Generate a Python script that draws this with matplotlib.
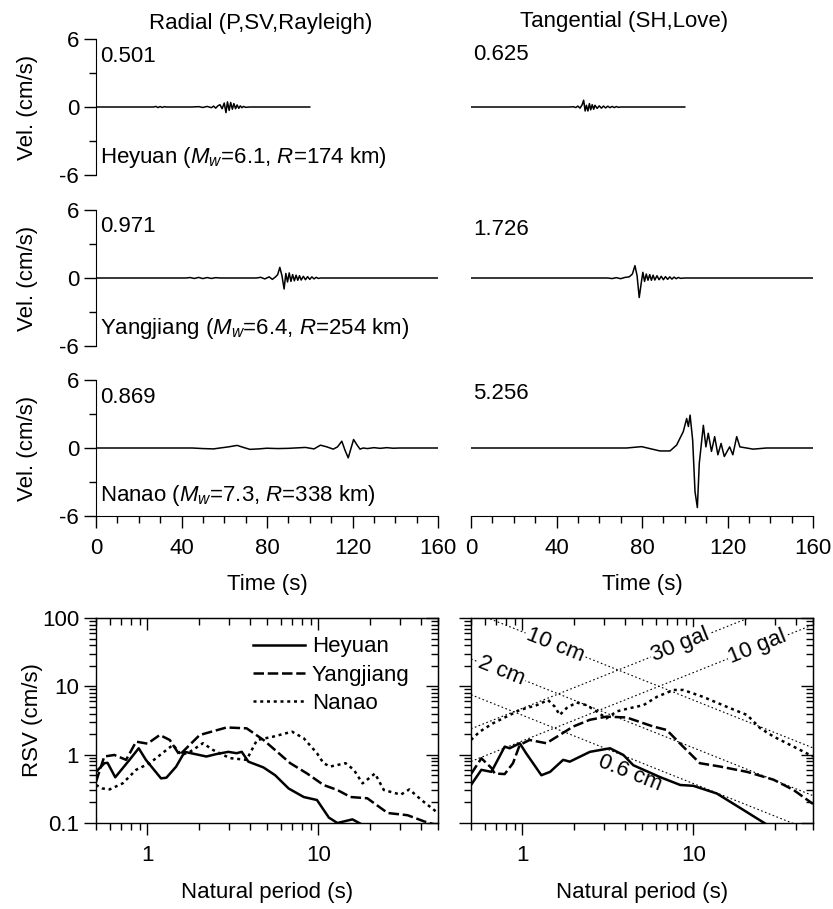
import numpy as np
import matplotlib
matplotlib.use('Agg')
import matplotlib.pyplot as plt
from matplotlib.ticker import FixedLocator, FixedFormatter, LogLocator, NullFormatter, MultipleLocator

plt.rcParams['font.family'] = ['Liberation Sans', 'DejaVu Sans']
plt.rcParams['font.size'] = 16
plt.rcParams['mathtext.fontset'] = 'custom'
plt.rcParams['mathtext.rm'] = 'Liberation Sans'
plt.rcParams['mathtext.it'] = 'Liberation Sans:italic'
plt.rcParams['axes.unicode_minus'] = False

# ---- velocity waveforms (time s, velocity cm/s) ----
heyuan_r_t = [0, 27, 28, 29, 30, 31, 32, 33, 45, 48, 50, 52, 54, 55, 56, 57, 58, 59, 60, 60.8, 61.5,
              62.3, 63, 63.8, 64.5, 65.3, 66, 66.8, 67.5, 68.3, 69, 70, 72, 100]
heyuan_r_v = [0, 0, 0.05, -0.05, 0.04, -0.04, 0.03, 0, 0, 0.03, -0.04, 0.05, -0.06, 0.08, -0.1, 0.1,
              0.2, -0.15, 0.35, -0.5, 0.45, -0.3, 0.4, -0.2, 0.3, -0.15, 0.18, -0.12, 0.1, -0.06, 0.05,
              -0.03, 0, 0]
heyuan_t_t = [0, 46, 48, 49, 50, 51, 52, 52.7, 53.4, 54, 54.7, 55.4, 56, 56.7, 57.4, 58, 59, 60, 61,
              62, 63, 64, 65, 66, 67, 68, 69, 70, 100]
heyuan_t_v = [0, 0, 0.02, -0.05, 0.08, -0.1, 0.2, 0.6, -0.35, 0.15, -0.35, 0.3, -0.25, 0.2, -0.2, 0.15,
              -0.12, 0.1, -0.1, 0.08, -0.08, 0.07, -0.06, 0.05, -0.05, 0.04, -0.03, 0, 0]
yangjiang_r_t = [0, 42, 44, 46, 48, 50, 52, 54, 56, 58, 75, 77, 79, 81, 82.5, 84, 85, 86, 87, 88, 88.8,
                 89.6, 90.4, 91.2, 92, 92.8, 93.6, 94.4, 95.2, 96, 97, 98, 99, 100, 101, 102, 103,
                 104, 105, 160]
yangjiang_r_v = [0, 0, 0.04, -0.04, 0.05, -0.05, 0.04, -0.04, 0.03, 0, 0, 0.06, -0.08, 0.1, -0.12, 0.1,
                 0.3, 0.94, 0.2, -0.97, 0.4, -0.35, 0.45, -0.3, 0.3, -0.25, 0.25, -0.2, 0.2, -0.18,
                 0.15, -0.15, 0.12, -0.12, 0.1, -0.08, 0.06, -0.04, 0, 0]
yangjiang_t_t = [0, 64, 66, 68, 70, 72, 74, 75.5, 76.7, 77.7, 78.7, 79.6, 80.4, 81.2, 82, 82.8, 83.6,
                 84.4, 85.2, 86, 87, 88, 89, 90, 91, 92, 93, 94, 95, 96, 97, 98, 100, 160]
yangjiang_t_v = [0, 0, -0.05, 0.03, -0.06, 0.05, 0.1, 0.35, 1.09, 0.2, -1.726, -0.5, 0.5, -0.3, 0.35,
                 -0.2, 0.3, -0.2, 0.25, -0.18, 0.2, -0.15, 0.15, -0.15, 0.12, -0.12, 0.1, -0.1, 0.08,
                 -0.06, 0.05, -0.03, 0, 0]
nanao_r_t = [0, 45, 50, 55, 58, 62, 66, 69, 72, 76, 80, 85, 90, 95, 98, 102, 105, 108, 111, 113, 115,
             116.5, 118, 119.5, 120.5, 122, 123.5, 125, 127, 130, 133, 136, 139, 142, 160]
nanao_r_v = [0, 0, -0.05, -0.08, 0.0, 0.1, 0.23, 0.05, -0.12, -0.08, -0.02, -0.05, -0.03, 0.02, 0.05,
             -0.08, 0.25, 0.1, -0.1, 0.1, 0.6, -0.2, -0.87, 0.1, 0.75, 0.3, -0.1, 0.0, -0.05, 0.03,
             -0.03, 0.03, -0.02, 0, 0]
nanao_t_t = [0, 72.8, 79.8, 88.4, 93.1, 96.2, 99.3, 100.9, 101.7, 102.5, 103.7, 104.8, 105.9, 106.8,
             108.7, 109.9, 111, 112.5, 114, 115.5, 117, 118.5, 121, 122.5, 124.3, 125.8, 132, 138.2, 160]
nanao_t_v = [0, 0, 0.12, -0.26, -0.26, 0.26, 1.44, 2.6, 1.9, 2.9, 0.7, -3.85, -5.256, -1.35, 2.0, 0.1,
             1.3, -0.3, 1.0, -0.6, 0.4, -0.75, 0.1, -0.6, 1.0, 0.1, -0.1, 0, 0]

peaks_r = ['0.501', '0.971', '0.869']
peaks_t = ['0.625', '1.726', '5.256']
stations = ['Heyuan ($M_w$=6.1, $R$=174 km)',
            'Yangjiang ($M_w$=6.4, $R$=254 km)',
            'Nanao ($M_w$=7.3, $R$=338 km)']

# ---- relative velocity response spectra (period s, RSV cm/s) ----
heyuan_rad_T = [0.5, 0.56, 0.584, 0.648, 0.784, 0.889, 0.98, 1.2, 1.29, 1.47, 1.65, 2.21, 2.53, 2.97,
                3.32, 3.56, 3.89, 4.77, 5.58, 6.69, 8.2, 9.8, 11.5, 12.9, 14, 15.8, 17.7, 20]
heyuan_rad_V = [0.56, 0.75, 0.76, 0.467, 0.836, 1.24, 0.836, 0.45, 0.46, 0.667, 1.1, 0.94, 1.02, 1.1,
                1.05, 1.1, 0.79, 0.65, 0.5, 0.32, 0.24, 0.217, 0.12, 0.1, 0.105, 0.113, 0.097, 0.08]
yangjiang_rad_T = [0.5, 0.559, 0.64, 0.75, 0.858, 1.0, 1.18, 1.35, 1.54, 2.02, 2.9, 3.8, 4.77, 6.84,
                   8.58, 10.7, 12.9, 15.4, 19.3, 25.4, 33.2, 41.7, 50]
yangjiang_rad_V = [0.40, 0.94, 0.99, 0.84, 1.55, 1.45, 1.94, 1.64, 0.99, 1.94, 2.5, 2.43, 1.64, 0.75,
                   0.53, 0.36, 0.304, 0.24, 0.23, 0.14, 0.13, 0.105, 0.092]
nanao_rad_T = [0.5, 0.546, 0.6, 0.716, 0.858, 1.03, 1.29, 1.41, 1.58, 1.77, 2.11, 2.42, 3.03, 3.8,
               4.37, 5.46, 7.0, 8.2, 9.8, 10.7, 11.7, 14.4, 16.1, 18.1, 21.4, 24.1, 30.3, 34, 40, 50]
nanao_rad_V = [0.36, 0.32, 0.31, 0.38, 0.6, 0.75, 1.17, 1.39, 0.99, 1.1, 1.47, 1.17, 0.89, 0.84, 1.64,
               1.84, 2.17, 1.74, 1.05, 0.75, 0.67, 0.75, 0.6, 0.38, 0.53, 0.304, 0.26, 0.31, 0.217, 0.14]

heyuan_tan_T = [0.5, 0.575, 0.658, 0.787, 0.842, 0.964, 1.05, 1.29, 1.45, 1.73, 1.89, 2.48, 3.25, 3.89,
                4.45, 6.37, 8.37, 9.99, 13.7, 19.6, 27, 30]
heyuan_tan_V = [0.36, 0.6, 0.56, 1.31, 1.24, 1.47, 1.05, 0.5, 0.56, 0.84, 0.79, 1.1, 1.24, 0.99, 0.70,
                0.47, 0.36, 0.35, 0.27, 0.155, 0.094, 0.08]
yangjiang_tan_T = [0.5, 0.575, 0.658, 0.688, 0.787, 0.88, 0.964, 1.10, 1.38, 1.65, 1.98, 2.48, 3.1,
                   4.07, 5.82, 6.97, 8.7, 10.9, 14.3, 20.6, 29.4, 38.5, 50]
yangjiang_tan_V = [0.52, 0.885, 0.64, 0.53, 0.52, 0.75, 1.39, 1.64, 1.47, 1.94, 2.58, 3.24, 3.6, 3.5,
                   2.58, 2.3, 1.31, 0.75, 0.67, 0.56, 0.43, 0.304, 0.19]
nanao_tan_T = [0.5, 0.562, 0.673, 0.806, 0.964, 1.21, 1.41, 1.55, 1.65, 1.81, 2.07, 2.37, 2.71, 3.1,
               3.56, 4.25, 5.1, 6.1, 7.63, 8.7, 11.4, 15.7, 20.6, 24.6, 29.4, 38.5, 50]
nanao_tan_V = [1.64, 2.17, 2.88, 3.6, 4.5, 5.3, 6.3, 5.0, 3.8, 4.8, 5.8, 5.3, 4.3, 3.4, 4.3, 4.8, 5.3,
               7.0, 8.85, 8.85, 7.0, 5.0, 3.8, 2.43, 1.84, 1.31, 0.94]

# reference lines: constant displacement (cm) and constant acceleration (gal)
disp_cm = [10, 2, 0.6]
accel_gal = [30, 10]
ref_T = np.array([0.5, 50])

W, H = 833, 909
fig = plt.figure(figsize=(W / 100, H / 100), dpi=100)


def px_axes(x0, y0, x1, y1):
    return fig.add_axes([x0 / W, 1 - y1 / H, (x1 - x0) / W, (y1 - y0) / H])


def style_ticks(ax):
    ax.tick_params(which='major', length=8.6, width=1.0)
    ax.tick_params(which='minor', length=5, width=1.0)


waves = [[(heyuan_r_t, heyuan_r_v), (heyuan_t_t, heyuan_t_v)],
         [(yangjiang_r_t, yangjiang_r_v), (yangjiang_t_t, yangjiang_t_v)],
         [(nanao_r_t, nanao_r_v), (nanao_t_t, nanao_t_v)]]
rows_y = [(39, 175), (210, 346), (380, 516)]
cols_x = [(96, 438), (471, 813)]
peak_y = [[0.868, 0.885], [0.88, 0.86], [0.87, 0.9]]

for r in range(3):
    for c in range(2):
        ax = px_axes(cols_x[c][0], rows_y[r][0], cols_x[c][1], rows_y[r][1])
        t, v = waves[r][c]
        ax.plot(t, v, color='k', lw=1.1)
        ax.set_xlim(0, 160)
        ax.set_ylim(-6, 6)
        for s in ['top', 'right']:
            ax.spines[s].set_visible(False)
        ax.spines['left'].set_visible(c == 0)
        ax.spines['bottom'].set_visible(r == 2)
        style_ticks(ax)
        if c == 0:
            ax.yaxis.set_major_locator(FixedLocator([-6, 0, 6]))
            ax.yaxis.set_major_formatter(FixedFormatter(['-6', '0', '6']))
            ax.yaxis.set_minor_locator(FixedLocator([-3, 3]))
            ax.set_ylabel('Vel. (cm/s)')
            ax.yaxis.set_label_coords(-0.171, 0.5)
        else:
            ax.tick_params(which='both', left=False, labelleft=False)
        if r == 2:
            ax.xaxis.set_major_locator(MultipleLocator(40))
            ax.xaxis.set_minor_locator(MultipleLocator(10))
            ax.tick_params(axis='x', pad=7)
            ax.set_xlabel('Time (s)')
            ax.xaxis.set_label_coords(0.5, -0.426)
        else:
            ax.tick_params(axis='x', which='both', bottom=False, labelbottom=False)
        peaks = peaks_r if c == 0 else peaks_t
        ax.text(0.012 if c == 0 else 0.006, peak_y[r][c], peaks[r], transform=ax.transAxes,
                ha='left', va='center')
        if c == 0:
            ax.text(0.012, 0.132 if r < 2 else 0.154, stations[r], transform=ax.transAxes,
                    ha='left', va='center')

fig.text(261 / W, 1 - 29.5 / H, 'Radial (P,SV,Rayleigh)', ha='center', va='baseline')
fig.text(624 / W, 1 - 27 / H, 'Tangential (SH,Love)', ha='center', va='baseline')

spec = [[(heyuan_rad_T, heyuan_rad_V), (yangjiang_rad_T, yangjiang_rad_V), (nanao_rad_T, nanao_rad_V)],
        [(heyuan_tan_T, heyuan_tan_V), (yangjiang_tan_T, yangjiang_tan_V), (nanao_tan_T, nanao_tan_V)]]
names = ['Heyuan', 'Yangjiang', 'Nanao']
styles = ['-', (0, (4.2, 1.5)), (0, (1.2, 1.5))]

for c in range(2):
    ax = px_axes(cols_x[c][0], 618, cols_x[c][1], 823)
    ax.set_xscale('log')
    ax.set_yscale('log')
    for k in range(3):
        T, V = spec[c][k]
        ax.plot(T, V, color='k', lw=1.8, ls=styles[k], label=names[k], zorder=3)
    ax.set_xlim(0.5, 50)
    ax.set_ylim(0.1, 100)
    ax.xaxis.set_major_locator(FixedLocator([1, 10]))
    ax.xaxis.set_major_formatter(FixedFormatter(['1', '10']))
    ax.xaxis.set_minor_locator(LogLocator(subs=np.arange(2, 10), numticks=100))
    ax.xaxis.set_minor_formatter(NullFormatter())
    ax.yaxis.set_major_locator(FixedLocator([0.1, 1, 10, 100]))
    ax.yaxis.set_major_formatter(FixedFormatter(['0.1', '1', '10', '100']))
    ax.yaxis.set_minor_locator(LogLocator(subs=np.arange(2, 10), numticks=100))
    ax.yaxis.set_minor_formatter(NullFormatter())
    style_ticks(ax)
    ax.tick_params(axis='x', pad=7)
    ax.set_xlabel('Natural period (s)')
    ax.xaxis.set_label_coords(0.5, -0.29)
    for sp in ax.spines.values():
        sp.set_linewidth(1.0)
    # mirrored axes with inward ticks
    top = ax.secondary_xaxis('top')
    right = ax.secondary_yaxis('right')
    for sec, axis in [(top, top.xaxis), (right, right.yaxis)]:
        axis.set_major_locator(FixedLocator([1, 10] if sec is top else [0.1, 1, 10, 100]))
        axis.set_minor_locator(LogLocator(subs=np.arange(2, 10), numticks=100))
        axis.set_major_formatter(NullFormatter())
        axis.set_minor_formatter(NullFormatter())
        sec.tick_params(which='both', direction='in')
        style_ticks(sec)
    if c == 0:
        ax.set_ylabel('RSV (cm/s)')
        ax.yaxis.set_label_coords(-0.155, 0.5)
        ax.legend(loc='upper left', bbox_to_anchor=(0.459, 0.91), frameon=False, borderpad=0,
                  handlelength=2.35, handletextpad=0.3, labelspacing=0.32, borderaxespad=0)
    else:
        ax.tick_params(axis='y', which='both', labelleft=False)
        for d in disp_cm:
            ax.plot(ref_T, 2 * np.pi * d / ref_T, color='k', lw=0.8, ls=(0, (1.5, 2.2)), zorder=1)
        for a in accel_gal:
            ax.plot(ref_T, a * ref_T / (2 * np.pi), color='k', lw=0.8, ls=(0, (1.5, 2.2)), zorder=1)
        box = dict(facecolor='white', edgecolor='none', pad=1)
        ax.text(1.55, 2 * np.pi * 10 / 1.55, '10 cm', rotation=-21.8, ha='center', va='center',
                rotation_mode='anchor', bbox=box, zorder=2)
        ax.text(0.757, 2 * np.pi * 2 / 0.757, '2 cm', rotation=-21.8, ha='center', va='center',
                rotation_mode='anchor', bbox=box, zorder=2)
        ax.text(4.26, 0.54, '0.6 cm', rotation=-21.8, ha='center', va='center',
                rotation_mode='anchor', zorder=4)
        ax.text(8.37, 30 * 8.37 / (2 * np.pi), '30 gal', rotation=21.8, ha='center', va='center',
                rotation_mode='anchor', bbox=box, zorder=2)
        ax.text(23.7, 10 * 23.7 / (2 * np.pi), '10 gal', rotation=21.8, ha='center', va='center',
                rotation_mode='anchor', bbox=box, zorder=2)

fig.savefig('out.png', dpi=100)
